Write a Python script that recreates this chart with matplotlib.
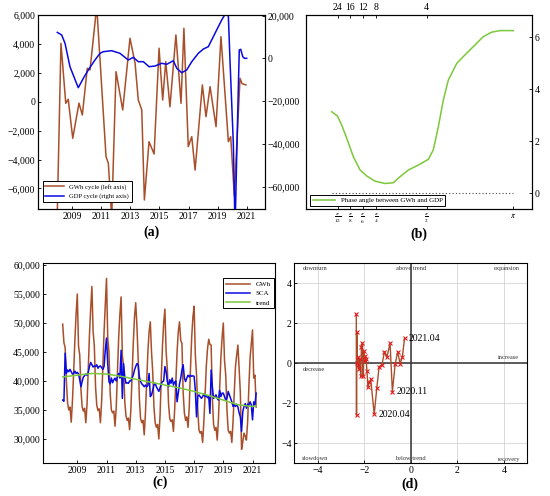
import numpy as np
import matplotlib
matplotlib.use('Agg')
import matplotlib.pyplot as plt
from matplotlib.ticker import FuncFormatter

plt.rcParams['font.family'] = ['Liberation Serif', 'DejaVu Serif']
plt.rcParams['mathtext.fontset'] = 'stix'
plt.rcParams['axes.linewidth'] = 0.8

BROWN = '#a84f2a'
BLUE = '#0a0ae0'
GREEN = '#7cc83a'

# (a) cycle components
cyc_gwh_t = [2007.95, 2008.22, 2008.55, 2008.72, 2009.03, 2009.46, 2009.69, 2010.03, 2010.22,
             2010.68, 2011.32, 2011.48, 2011.71, 2012.01, 2012.47, 2012.97, 2013.32, 2013.54,
             2013.78, 2013.96, 2014.28, 2014.63, 2014.97, 2015.22, 2015.43, 2015.72, 2016.13,
             2016.48, 2016.68, 2016.98, 2017.22, 2017.45, 2017.95, 2018.2, 2018.48, 2018.89,
             2019.23, 2019.74, 2019.9, 2020.15, 2020.54, 2020.68, 2020.95]
cyc_gwh = [-8500, 4040, -110, 170, -2530, -100, -920, 2310, 2200,
           6600, -3800, -4260, -8000, 2080, -570, 4390, 2660, 120,
           -570, -6800, -2770, -3620, 3700, 120, 2770, -350, 4620,
           -110, 5080, -3110, -2420, -4730, 1160, -1040, 1040, -1730,
           4500, -2770, -2420, -6500, 1620, 1250, 1160]
cyc_gdp_t = [2007.97, 2008.27, 2008.5, 2008.84, 2009.41, 2009.76, 2010.1, 2010.56, 2010.91,
             2011.13, 2011.71, 2012.28, 2012.85, 2013.2, 2013.54, 2013.89, 2014.28, 2014.69,
             2015.15, 2015.5, 2015.95, 2016.19, 2016.53, 2016.87, 2017.22, 2017.67, 2018.02,
             2018.36, 2018.82, 2019.28, 2019.63, 2019.74, 2019.85, 2020.08, 2020.2, 2020.36,
             2020.49, 2020.59, 2020.73, 2020.84, 2021.0]
cyc_gdp = [12200, 10970, 7080, -3860, -13680, -9290, -5400, -720, 2400,
           3160, 3630, 2400, -720, 530, -1510, -1510, -3860, -3530,
           -2270, -2740, -1050, -4610, -6670, -5400, -1510, 2400, 4420,
           5500, 11760, 17990, 22000, 19500, -700, -39700, -80000, -31900,
           3950, 4280, 820, 70, 70]

# (b) phase angle
phase_w = [0.200, 0.258, 0.304, 0.358, 0.427, 0.496, 0.602, 0.766, 0.925, 1.053, 1.157,
           1.286, 1.441, 1.600, 1.690, 1.781, 1.872, 1.963, 2.115, 2.266, 2.447, 2.597,
           2.750, 2.900, 3.1416]
phase = [3.14, 2.98, 2.63, 2.12, 1.41, 0.90, 0.67, 0.47, 0.38, 0.41, 0.64,
         0.90, 1.09, 1.31, 1.67, 2.56, 3.59, 4.36, 5.00, 5.33, 5.71, 6.03,
         6.20, 6.26, 6.26]
freq_ticks = [np.pi / 12, np.pi / 8, np.pi / 6, np.pi / 4, np.pi / 2, np.pi]
freq_labels = [r'$\frac{\pi}{12}$', r'$\frac{\pi}{8}$', r'$\frac{\pi}{6}$',
               r'$\frac{\pi}{4}$', r'$\frac{\pi}{2}$', r'$\pi$']
period_labels = ['24', '16', '12', '8', '4']

# (c) monthly GWh, seasonally adjusted (SCA) and trend
gwh = [49800, 46600, 45800, 40000, 36200, 35000, 35500, 32900, 36500, 41500, 47000, 51500,
       55000, 46000, 44500, 38500, 35500, 34800, 35300, 32800, 36000, 42000, 48000, 52500,
       56300, 48500, 46000, 39000, 35800, 34900, 35200, 32800, 36500, 42500, 48500, 53000,
       57700, 47500, 45000, 38000, 35000, 34500, 34800, 32200, 35500, 41500, 47500, 51500,
       54500, 44500, 42500, 36500, 34000, 33200, 33600, 31600, 35000, 41000, 46500, 51000,
       53500, 49500, 44000, 37000, 33500, 32800, 33200, 30700, 34500, 40000, 45000, 48500,
       50200, 45000, 41500, 35500, 32800, 32000, 32500, 30000, 34000, 40500, 46000, 50000,
       52400, 45000, 42000, 36000, 33500, 33000, 33300, 31300, 35000, 40000, 45000, 48500,
       50200, 47000, 46500, 38000, 34500, 33200, 33800, 32000, 35500, 42000, 47500, 51000,
       52900, 44500, 41000, 35000, 31500, 31000, 31300, 29400, 33000, 37500, 42500, 45500,
       47200, 46300, 46200, 37000, 32500, 31500, 32000, 29800, 33500, 39000, 44000, 47500,
       50000, 43500, 41000, 35000, 31500, 31000, 31300, 29400, 33000, 38000, 42500, 44500,
       46200, 42000, 38000, 28200, 29500, 31000, 30500, 29800, 33000, 39000, 44000, 46500,
       48800, 40500, 41000, 35500]
sca = [36700, 36500, 44800, 41300, 41900, 41600, 42000, 41600, 41200, 41300, 41700, 41300,
       41500, 41200, 40200, 39000, 39900, 40700, 40900, 41200, 41000, 41500, 42500, 43200,
       42800, 42400, 42600, 42500, 42800, 42200, 42500, 42600, 42300, 42000, 42500, 45300,
       47400, 43000, 39900, 39500, 40500, 39700, 40200, 40500, 40000, 40700, 41300, 40500,
       45300, 37000, 43000, 40700, 39600, 39700, 39600, 40000, 40000, 40500, 41000, 41900,
       42500, 43000, 42800, 40700, 39900, 39500, 39300, 39000, 39300, 39000, 39200, 41300,
       37300, 37600, 38400, 39300, 39600, 39000, 38600, 38200, 38800, 39500, 39900, 40000,
       42500, 41600, 39900, 39000, 40200, 39600, 40500, 39300, 39800, 40000, 36400, 37900,
       39500, 40500, 41900, 42800, 40500, 39900, 40500, 41000, 40700, 41000, 40800, 40900,
       40800, 38400, 33800, 37300, 37600, 37300, 37000, 37300, 37800, 37300, 37500, 37100,
       37300, 34400, 41900, 39000, 37000, 37300, 37600, 37000, 36700, 38400, 37300, 37900,
       37900, 37300, 36700, 37000, 38200, 37600, 37000, 36400, 35600, 35900, 35600, 36000,
       35500, 34500, 33800, 31300, 34700, 35600, 36100, 35300, 36000, 35800, 36400, 35900,
       33300, 36400, 35900, 37900]
trend_t = [2008.0, 2009.0, 2010.0, 2011.0, 2012.0, 2013.0, 2014.0, 2015.0, 2016.0,
           2017.0, 2018.0, 2019.0, 2020.0, 2021.0, 2021.25]
trend = [40700, 41000, 41300, 41200, 40800, 40300, 39800, 39300, 38800,
         38200, 37500, 36700, 35900, 35600, 35700]

# (d) cycle trajectory
traj_x = [-2.34, -2.33, -2.32, -2.30, -2.27, -2.25, -2.22, -2.18, -2.15, -2.12, -2.08,
          -2.05, -2.02, -1.98, -1.95, -1.92, -1.88, -1.84, -1.78, -1.72, -1.57,
          -1.46, -1.36, -1.24, -1.13, -1.03, -0.89, -0.79,
          -0.67, -0.56, -0.46, -0.36, -0.27]
traj_y = [2.45, -2.6, 1.55, 0.0, 0.3, -0.1, -0.3, 0.2, -0.65, 0.8, 1.0,
          -0.65, 0.6, 0.1, 0.35, 0.2, -0.4, -1.2, -0.95, -0.8, -2.55,
          -1.25, -0.17, -0.08, 0.58, 0.3, 1.0, -1.42,
          -0.03, 0.58, -0.03, 0.33, 1.25]
traj_marks = {20: '2020.04', 27: '2020.11', 32: '2021.04'}
quadrants = [('downturn', -4.1, 4.72), ('above trend', 0.0, 4.72), ('expansion', 4.1, 4.75),
             ('increase', 4.2, 0.3), ('decrease', -4.15, -0.3),
             ('slowdown', -4.1, -4.75), ('below trend', 0.0, -4.75), ('recovery', 4.2, -4.8)]

W, H = 550, 496


def rect(l, t, r, b):
    return [l / W, 1 - b / H, (r - l) / W, (b - t) / H]


def thousands(v, pos):
    return f'{v:,.0f}'.replace('-', '\u2212')


def style_ticks(ax):
    ax.tick_params(direction='in', length=2.5, width=0.6, labelsize=7, pad=2)


fig = plt.figure(figsize=(5.5, 4.96), dpi=100)

# ---------- (a)
ax_a = fig.add_axes(rect(38, 15, 265, 209))
ax_a2 = ax_a.twinx()
l1, = ax_a.plot(cyc_gwh_t, cyc_gwh, color=BROWN, lw=1.1, label='GWh cycle (left axis)')
l2, = ax_a2.plot(cyc_gdp_t, cyc_gdp, color=BLUE, lw=1.1, label='GDP cycle (right axis)')
ax_a.set_xlim(2006.64, 2022.26)
ax_a.set_ylim(-7425, 6000)
ax_a2.set_ylim(-70430, 20330)
ax_a.set_xticks(range(2009, 2022, 2))
ax_a.set_yticks(range(-6000, 6001, 2000))
ax_a2.set_yticks(range(-60000, 20001, 20000))
ax_a.yaxis.set_major_formatter(FuncFormatter(thousands))
ax_a2.yaxis.set_major_formatter(FuncFormatter(thousands))
style_ticks(ax_a)
style_ticks(ax_a2)
leg = ax_a2.legend(handles=[l1, l2], loc='lower left', bbox_to_anchor=(0.02, 0.036),
                   borderaxespad=0, fontsize=4.8, frameon=True, fancybox=False,
                   edgecolor='black', framealpha=1, handlelength=2.8)
leg.get_frame().set_linewidth(0.7)
fig.text(151 / W, 1 - 232 / H, '(a)', ha='center', va='center', fontsize=10, fontweight='bold')

# ---------- (b)
knots_w = [-1.0, 0.0, np.pi / 12, np.pi / 8, np.pi / 6, np.pi / 4, np.pi / 2, np.pi, 5.0]
knots_u = [215.3, 312.3, 337.7, 350.0, 362.7, 376.0, 426.7, 513.3, 615.7]


def fwd(w):
    return np.interp(w, knots_w, knots_u)


def inv(u):
    return np.interp(u, knots_u, knots_w)


ax_b = fig.add_axes(rect(306, 15, 532, 209))
ax_b.set_xscale('function', functions=(fwd, inv))
ax_b.plot(phase_w, phase, color=GREEN, lw=1.1, label='Phase angle between GWh and GDP')
ax_b.plot([phase_w[0], np.pi], [0, 0], color='#444444', lw=0.8, ls=(0, (1, 2)))
ax_b.set_xlim(-0.065, 3.48)
ax_b.set_ylim(-0.6, 6.86)
ax_b.set_xticks(freq_ticks)
ax_b.set_xticklabels(freq_labels)
ax_b.set_yticks([0, 2, 4, 6])
ax_b.yaxis.tick_right()
style_ticks(ax_b)
ax_b.tick_params(axis='x', labelsize=5.5)
ax_bt = ax_b.twiny()
ax_bt.set_xscale('function', functions=(fwd, inv))
ax_bt.set_xlim(ax_b.get_xlim())
ax_bt.set_xticks(freq_ticks[:-1])
ax_bt.set_xticklabels(period_labels)
style_ticks(ax_bt)
leg = ax_b.legend(loc='lower left', bbox_to_anchor=(0.018, 0.015), borderaxespad=0,
                  fontsize=5, frameon=True, fancybox=False, edgecolor='black',
                  framealpha=1, handlelength=3.2)
leg.get_frame().set_linewidth(0.7)
fig.text(419 / W, 1 - 234 / H, '(b)', ha='center', va='center', fontsize=10, fontweight='bold')

# ---------- (c)
t_month = 2008 + np.arange(len(gwh)) / 12
ax_c = fig.add_axes(rect(42.7, 263.3, 275, 463.3))
ax_c.plot(t_month, gwh, color=BROWN, lw=1.1, label='GWh')
ax_c.plot(t_month, sca, color=BLUE, lw=1.1, label='SCA')
ax_c.plot(trend_t, trend, color=GREEN, lw=1.1, label='trend')
ax_c.set_xlim(2006.63, 2022.54)
ax_c.set_ylim(25800, 60300)
ax_c.set_xticks(range(2009, 2022, 2))
ax_c.set_yticks(range(30000, 60001, 5000))
ax_c.yaxis.set_major_formatter(FuncFormatter(thousands))
style_ticks(ax_c)
leg = ax_c.legend(loc='upper right', bbox_to_anchor=(0.995, 0.925), borderaxespad=0,
                  fontsize=5, frameon=True, fancybox=False, edgecolor='black',
                  framealpha=1, handlelength=3.5)
leg.get_frame().set_linewidth(0.7)
fig.text(160 / W, 1 - 482 / H, '(c)', ha='center', va='center', fontsize=10, fontweight='bold')

# ---------- (d)
ax_d = fig.add_axes(rect(294.3, 263.3, 527.3, 463.3))
ax_d.set_xlim(-5, 5)
ax_d.set_ylim(-5, 5)
ax_d.set_xticks([-4, -2, 0, 2, 4])
ax_d.set_yticks([-4, -2, 0, 2, 4])
ax_d.grid(True, color='#cccccc', lw=0.5)
ax_d.axhline(0, color='#333333', lw=1.1)
ax_d.axvline(0, color='#333333', lw=1.1)
ax_d.plot(traj_x, traj_y, color=BROWN, lw=1.0, marker='x', ms=3.2, mew=0.8, mec='#e02020')
for i, txt in traj_marks.items():
    ax_d.annotate(txt, (traj_x[i], traj_y[i]), xytext=(3, 0), textcoords='offset points',
                  va='center', ha='left', fontsize=7)
for txt, qx, qy in quadrants:
    ax_d.text(qx, qy, txt, ha='center', va='center', fontsize=4.6, color='#333333')
ax_d.xaxis.set_major_formatter(FuncFormatter(lambda v, p: f'{v:.0f}'.replace('-', '\u2212')))
ax_d.yaxis.set_major_formatter(FuncFormatter(lambda v, p: f'{v:.0f}'.replace('-', '\u2212')))
style_ticks(ax_d)
fig.text(410 / W, 1 - 484 / H, '(d)', ha='center', va='center', fontsize=10, fontweight='bold')

fig.savefig('out.png', dpi=100)
